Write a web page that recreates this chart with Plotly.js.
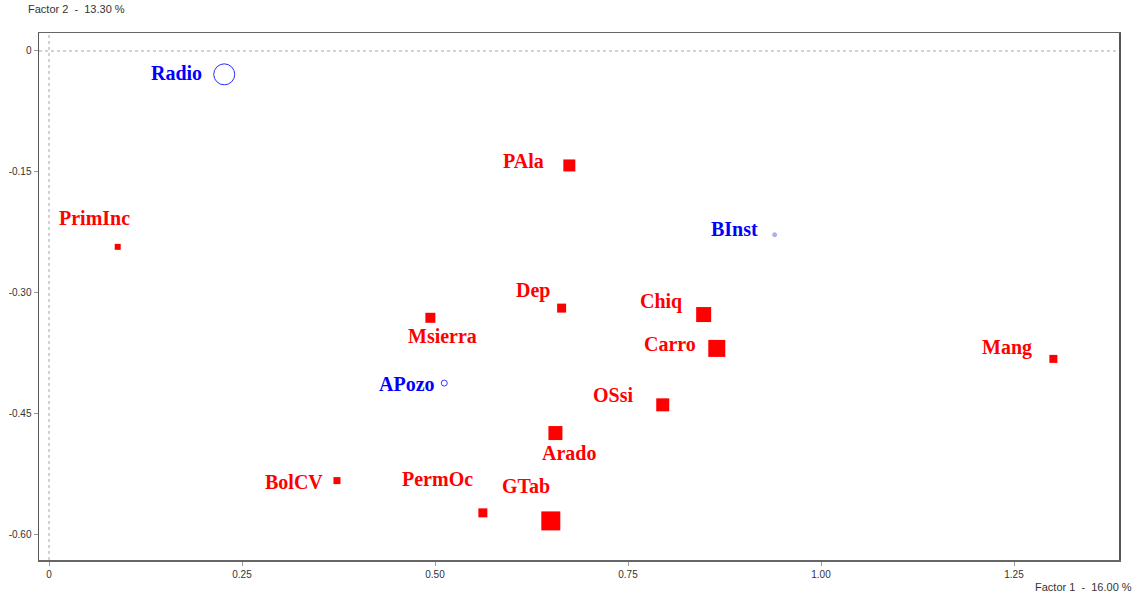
<!DOCTYPE html>
<html>
<head>
<meta charset="utf-8">
<script src="https://cdn.plot.ly/plotly-3.0.1.min.js"></script>
<style>
html,body{margin:0;padding:0;background:#fff;}
#chart{width:1138px;height:592px;}
</style>
</head>
<body>
<div id="chart"></div>
<script>
// Active modalities (red squares)
const activeNames = ["PAla","PrimInc","Dep","Chiq","Msierra","Carro","Mang","OSsi","Arado","BolCV","PermOc","GTab"];
const activeF1 = [0.674, 0.089, 0.664, 0.848, 0.494, 0.865, 1.301, 0.795, 0.656, 0.373, 0.562, 0.650];
const activeF2 = [-0.142, -0.243, -0.319, -0.327, -0.331, -0.369, -0.382, -0.439, -0.474, -0.533, -0.573, -0.583];

// Illustrative modalities (blue circles)
const supNames = ["Radio","BInst","APozo"];
const supF1 = [0.227, 0.940, 0.512];
const supF2 = [-0.029, -0.228, -0.412];

// Axis ticks
const xTickVals = [0, 0.25, 0.50, 0.75, 1.00, 1.25];
const xTickText = ["0","0.25","0.50","0.75","1.00","1.25"];
const yTickVals = [0, -0.15, -0.30, -0.45, -0.60];
const yTickText = ["0","-0.15","-0.30","-0.45","-0.60"];

// Styling (marker sizes in px, label offsets in px)
const activeSizes = [12, 6, 9, 15, 10, 17, 8, 13, 14, 7, 9, 19];
const supSizes = [21, 4, 6];
const supSymbols = ["circle-open", "circle", "circle-open"];
const supColors = ["#2b2bff", "#a9aff0", "#3a3aff"];
const activeLabelShift = [[-46,4.5],[-23.5,29],[-28.5,18],[-42.5,13.5],[12,-18],[-47,4],[-46,11],[-50,10],[13.5,-20],[-43,-1.5],[-45.5,34],[-25,35]];
const supLabelShift = [[-48,1],[-40,5.5],[-37,-1]];

const traces = [
  {
    type: "scatter", mode: "markers",
    x: activeF1, y: activeF2, text: activeNames,
    marker: {symbol: "square", size: activeSizes, color: "#ff0000", opacity: 1, line: {width: 0}},
    hoverinfo: "text", showlegend: false, cliponaxis: false
  },
  {
    type: "scatter", mode: "markers",
    x: supF1, y: supF2, text: supNames,
    marker: {symbol: supSymbols, size: supSizes, color: supColors, opacity: 1, line: {width: 1, color: supColors}},
    hoverinfo: "text", showlegend: false, cliponaxis: false
  }
];

const labelFont = (c) => ({family: "Liberation Serif, Times New Roman, serif", size: 20, color: c, weight: 700});
const annotations = [];
activeNames.forEach((n, i) => annotations.push({
  x: activeF1[i], y: activeF2[i], xref: "x", yref: "y", text: n, showarrow: false,
  xshift: activeLabelShift[i][0], yshift: activeLabelShift[i][1], font: labelFont("#ff0000")
}));
supNames.forEach((n, i) => annotations.push({
  x: supF1[i], y: supF2[i], xref: "x", yref: "y", text: n, showarrow: false,
  xshift: supLabelShift[i][0], yshift: supLabelShift[i][1], font: labelFont("#0000ff")
}));
annotations.push({
  xref: "paper", yref: "paper", x: -0.01, y: 1, yshift: 24, xshift: -2, xanchor: "left", yanchor: "middle",
  text: "Factor 2  -  13.30 %", showarrow: false,
  font: {family: "Liberation Sans, Arial, sans-serif", size: 11, color: "#333"}
});
annotations.push({
  xref: "paper", yref: "paper", x: 1, y: 0, xshift: 15, yshift: -27, xanchor: "right", yanchor: "middle",
  text: "Factor 1  -  16.00 %", showarrow: false,
  font: {family: "Liberation Sans, Arial, sans-serif", size: 11, color: "#333"}
});

const layout = {
  width: 1138, height: 592,
  margin: {l: 39, r: 19, t: 33, b: 32, pad: 0},
  paper_bgcolor: "#ffffff", plot_bgcolor: "#ffffff",
  font: {family: "Liberation Sans, Arial, sans-serif", size: 10, color: "#333"},
  xaxis: {
    range: [-0.01295, 1.386], tickvals: xTickVals, ticktext: xTickText,
    showgrid: false, zeroline: false, showline: true, mirror: true,
    linecolor: "#666", linewidth: 1.5, ticks: "outside", ticklen: 4, tickcolor: "#999",
    tickfont: {size: 10, color: "#333"}, fixedrange: true
  },
  yaxis: {
    range: [-0.6315, 0.0223], tickvals: yTickVals, ticktext: yTickText,
    showgrid: false, zeroline: false, showline: true, mirror: true,
    linecolor: "#555", linewidth: 1.5, ticks: "outside", ticklen: 4, tickcolor: "#999",
    tickfont: {size: 10, color: "#333"}, fixedrange: true
  },
  shapes: [
    {type: "line", xref: "x", yref: "paper", x0: 0, x1: 0, y0: 0, y1: 1,
     line: {color: "#c4c4c4", width: 1.5, dash: "dot"}, layer: "below"},
    {type: "line", xref: "paper", yref: "y", x0: 0, x1: 1, y0: 0, y1: 0,
     line: {color: "#c4c4c4", width: 1.5, dash: "dot"}, layer: "below"}
  ],
  annotations: annotations,
  showlegend: false
};

Plotly.newPlot("chart", traces, layout, {displayModeBar: false, staticPlot: true});
</script>
</body>
</html>
